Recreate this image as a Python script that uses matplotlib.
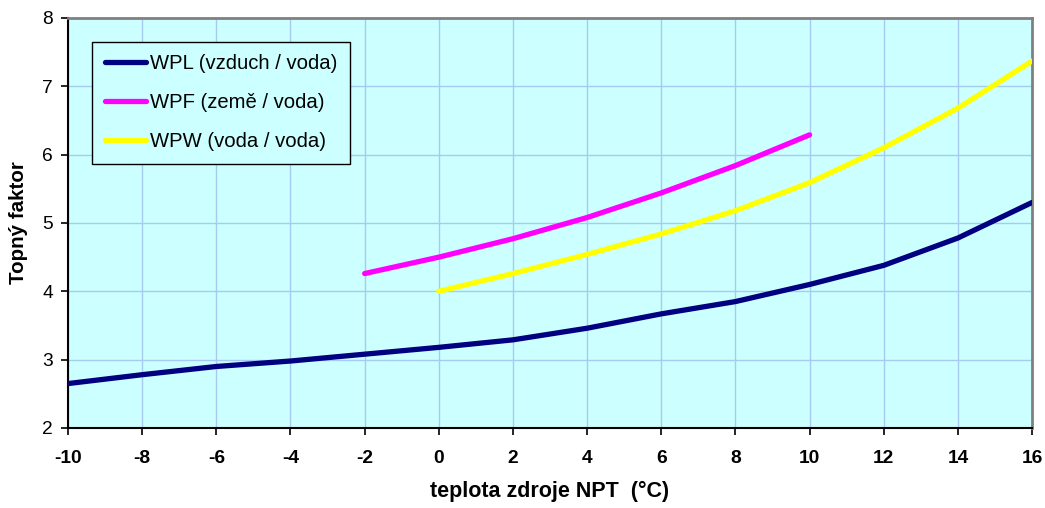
import matplotlib
matplotlib.use("Agg")
import matplotlib.pyplot as plt

plt.rcParams['font.family'] = ['Liberation Sans', 'DejaVu Sans']

# Source temperature (°C) and heating factor for each heat pump type
x_wpl = [-10, -8, -6, -4, -2, 0, 2, 4, 6, 8, 10, 12, 14, 16]
y_wpl = [2.65, 2.78, 2.90, 2.98, 3.08, 3.18, 3.29, 3.46, 3.67, 3.85, 4.10, 4.38, 4.78, 5.30]

x_wpf = [-2, 0, 2, 4, 6, 8, 10]
y_wpf = [4.26, 4.50, 4.77, 5.08, 5.44, 5.84, 6.29]

x_wpw = [0, 2, 4, 6, 8, 10, 12, 14, 16]
y_wpw = [4.00, 4.26, 4.54, 4.84, 5.18, 5.59, 6.10, 6.68, 7.37]

labels = ["WPL (vzduch / voda)", "WPF (země / voda)", "WPW (voda / voda)"]
colors = ["#000080", "#FF00FF", "#FFFF00"]

x_ticks = list(range(-10, 17, 2))
y_ticks = list(range(2, 9))

fig = plt.figure(figsize=(10.45, 5.08), dpi=100)
ax = fig.add_axes([0.0651, 0.1575, 0.9225, 0.8071])
ax.set_facecolor("#CCFFFF")

for xs, ys, lab, c in zip([x_wpl, x_wpf, x_wpw], [y_wpl, y_wpf, y_wpw], labels, colors):
    ax.plot(xs, ys, color=c, lw=3.8, label=lab, solid_capstyle='round', zorder=3)

ax.set_xlim(-10, 16)
ax.set_ylim(2, 8)
ax.set_xticks(x_ticks)
ax.set_yticks(y_ticks)
ax.set_xticklabels([str(t) for t in x_ticks], fontweight='bold', fontsize=13.8)
ax.set_yticklabels([str(t) for t in y_ticks], fontsize=13.8)
ax.grid(True, color="#A6CAF0", lw=1.0, zorder=0)
ax.set_axisbelow(True)

ax.tick_params(axis='x', direction='out', length=5, width=1.2, color='black', pad=11)
ax.tick_params(axis='y', direction='out', length=5, width=1.2, color='black', pad=6)

for s in ['left', 'bottom']:
    ax.spines[s].set_color('black')
    ax.spines[s].set_linewidth(1.5)
for s in ['top', 'right']:
    ax.spines[s].set_color('#808080')
    ax.spines[s].set_linewidth(2)

ax.set_xlabel("teplota zdroje NPT  (°C)", fontweight='bold', fontsize=15.5, labelpad=10)
ax.set_ylabel("Topný faktor", fontweight='bold', fontsize=14.8, labelpad=10)

leg = ax.legend(loc='upper left', bbox_to_anchor=(0.025, 0.942), fontsize=14.6,
                frameon=True, fancybox=False, handlelength=2.05, handletextpad=0.2,
                labelspacing=0.98, borderpad=0.62, borderaxespad=0)
leg.get_frame().set_edgecolor('black')
leg.get_frame().set_facecolor('#CCFFFF')
leg.get_frame().set_linewidth(1.0)
leg.get_frame().set_alpha(1)

fig.savefig("out.png", dpi=100, facecolor='white')
